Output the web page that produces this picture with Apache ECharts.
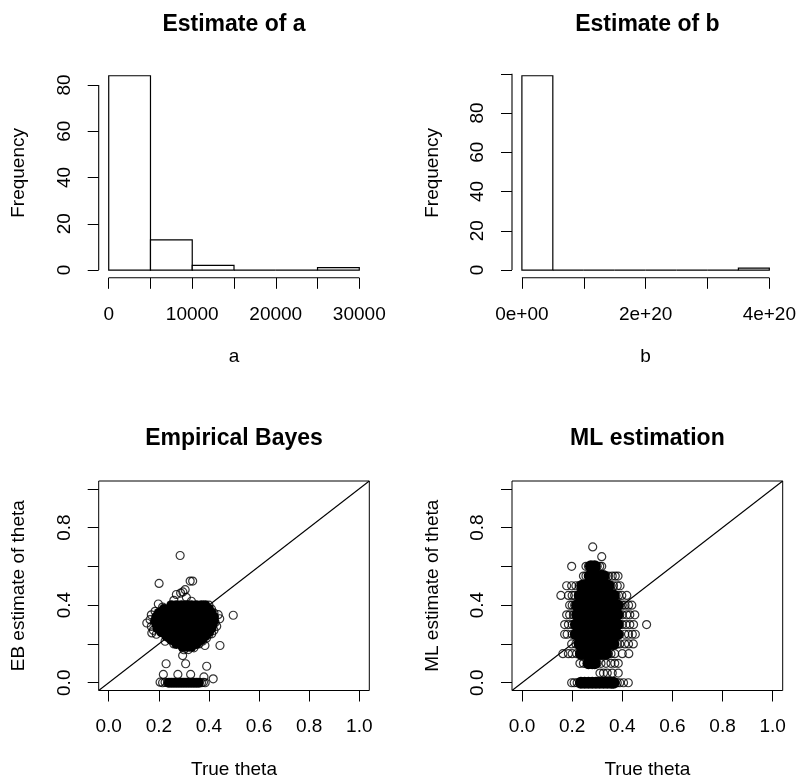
<!DOCTYPE html>
<html><head><meta charset="utf-8">
<script src="https://cdn.jsdelivr.net/npm/echarts@6/dist/echarts.min.js"></script>
<style>html,body{margin:0;padding:0;background:#fff}#c{width:799px;height:780px}</style>
</head><body><div id="c"></div>
<script>
// ---------- Histogram of a ----------
const aBreaks = [0, 5000, 10000, 15000, 20000, 25000, 30000];
const aCounts = [84, 13, 2, 0, 0, 1];
const aXTicks = [0, 5000, 10000, 15000, 20000, 25000, 30000];
const aXLabels = [0, 10000, 20000, 30000];
const aYTicks = [0, 20, 40, 60, 80];
// ---------- Histogram of b ----------
const bBreaks = [0, 0.5e20, 1e20, 1.5e20, 2e20, 2.5e20, 3e20, 3.5e20, 4e20];
const bCounts = [99, 0, 0, 0, 0, 0, 0, 1];
const bXTicks = [0, 1e20, 2e20, 3e20, 4e20];
const bXLabelValues = [0, 2e20, 4e20];
const bXLabelText = ['0e+00', '2e+20', '4e+20'];
const bYTicks = [0, 20, 40, 60, 80, 100];
const bYLabels = [0, 20, 40, 60, 80];
// ---------- theta axes ----------
const thetaTicks = [0, 0.2, 0.4, 0.6, 0.8, 1.0];
const thetaXLabels = [0, 0.2, 0.4, 0.6, 0.8, 1.0];
const thetaYLabels = [0, 0.4, 0.8];
const thetaLim = [0, 1];
// ---------- Empirical Bayes: [true theta, EB estimate] ----------
// dense (saturated) part of the cloud
const ebDense = [
 [0.25,0.40],[0.27,0.40],[0.29,0.40],[0.31,0.40],[0.33,0.40],[0.35,0.40],[0.37,0.40],[0.385,0.40],
 [0.22,0.38],[0.24,0.38],[0.26,0.38],[0.28,0.38],[0.30,0.38],[0.32,0.38],[0.34,0.38],[0.36,0.38],[0.38,0.38],[0.40,0.38],
 [0.20,0.36],[0.22,0.36],[0.24,0.36],[0.26,0.36],[0.28,0.36],[0.30,0.36],[0.32,0.36],[0.34,0.36],[0.36,0.36],[0.38,0.36],[0.40,0.36],[0.41,0.36],
 [0.19,0.34],[0.21,0.34],[0.23,0.34],[0.25,0.34],[0.27,0.34],[0.29,0.34],[0.31,0.34],[0.33,0.34],[0.35,0.34],[0.37,0.34],[0.39,0.34],[0.41,0.34],[0.42,0.34],
 [0.185,0.32],[0.20,0.32],[0.22,0.32],[0.24,0.32],[0.26,0.32],[0.28,0.32],[0.30,0.32],[0.32,0.32],[0.34,0.32],[0.36,0.32],[0.38,0.32],[0.40,0.32],[0.42,0.32],
 [0.19,0.30],[0.21,0.30],[0.23,0.30],[0.25,0.30],[0.27,0.30],[0.29,0.30],[0.31,0.30],[0.33,0.30],[0.35,0.30],[0.37,0.30],[0.39,0.30],[0.415,0.30],
 [0.195,0.28],[0.21,0.28],[0.23,0.28],[0.25,0.28],[0.27,0.28],[0.29,0.28],[0.31,0.28],[0.33,0.28],[0.35,0.28],[0.37,0.28],[0.39,0.28],[0.41,0.28],
 [0.21,0.26],[0.23,0.26],[0.25,0.26],[0.27,0.26],[0.29,0.26],[0.31,0.26],[0.33,0.26],[0.35,0.26],[0.37,0.26],[0.39,0.26],[0.40,0.26],
 [0.23,0.24],[0.25,0.24],[0.27,0.24],[0.29,0.24],[0.31,0.24],[0.33,0.24],[0.35,0.24],[0.37,0.24],[0.385,0.24],
 [0.25,0.22],[0.27,0.22],[0.29,0.22],[0.31,0.22],[0.33,0.22],[0.35,0.22],[0.37,0.22],
 [0.27,0.20],[0.29,0.20],[0.31,0.20],[0.33,0.20],[0.35,0.20],
 [0.295,0.185],[0.315,0.185],[0.33,0.185],
 [0.24,0.0],[0.25,0.0],[0.26,0.0],[0.27,0.0],[0.28,0.0],[0.29,0.0],[0.30,0.0],[0.31,0.0],[0.32,0.0],[0.33,0.0],[0.34,0.0],[0.35,0.0],[0.36,0.0]
];
// individually visible circles
const ebSparse = [
 [0.285,0.656],[0.201,0.512],[0.325,0.524],[0.335,0.524],[0.305,0.48],[0.296,0.468],[0.287,0.462],[0.27,0.455],
 [0.198,0.406],[0.497,0.348],[0.444,0.192],[0.384,0.192],[0.295,0.14],[0.229,0.098],[0.307,0.098],[0.391,0.085],
 [0.218,0.043],[0.276,0.043],[0.327,0.043],[0.38,0.03],[0.417,0.02],[0.205,0.003],
 [0.26,0.425],[0.31,0.44],[0.33,0.42],[0.215,0.39],[0.185,0.368],[0.17,0.35],[0.165,0.325],[0.152,0.308],
 [0.17,0.29],[0.178,0.27],[0.172,0.257],[0.19,0.25],[0.225,0.214],[0.24,0.23],[0.26,0.2],[0.3,0.17],
 [0.318,0.171],[0.34,0.18],[0.36,0.2],[0.375,0.215],[0.39,0.23],[0.40,0.25],[0.411,0.252],[0.42,0.27],
 [0.431,0.291],[0.425,0.31],[0.443,0.33],[0.437,0.351],[0.42,0.36],[0.41,0.38],[0.40,0.40],
 [0.215,0.0],[0.225,0.002],[0.235,0.0],[0.37,0.0],[0.378,0.002],[0.385,0.0]
];
// ---------- ML estimation: [true theta, ML estimate] ----------
const mlDense = [
 [0.275,0.6],[0.29,0.6],
 [0.27,0.55],[0.285,0.55],[0.30,0.55],[0.315,0.55],[0.325,0.55],
 [0.24,0.5],[0.255,0.5],[0.27,0.5],[0.285,0.5],[0.30,0.5],[0.315,0.5],[0.33,0.5],[0.345,0.5],
 [0.23,0.45],[0.245,0.45],[0.26,0.45],[0.275,0.45],[0.29,0.45],[0.305,0.45],[0.32,0.45],[0.335,0.45],[0.35,0.45],[0.365,0.45],
 [0.22,0.4],[0.235,0.4],[0.25,0.4],[0.265,0.4],[0.28,0.4],[0.295,0.4],[0.31,0.4],[0.325,0.4],[0.34,0.4],[0.355,0.4],[0.37,0.4],[0.38,0.4],
 [0.22,0.35],[0.235,0.35],[0.25,0.35],[0.265,0.35],[0.28,0.35],[0.295,0.35],[0.31,0.35],[0.325,0.35],[0.34,0.35],[0.355,0.35],[0.37,0.35],[0.38,0.35],
 [0.215,0.3],[0.23,0.3],[0.245,0.3],[0.26,0.3],[0.275,0.3],[0.29,0.3],[0.305,0.3],[0.32,0.3],[0.335,0.3],[0.35,0.3],[0.365,0.3],[0.38,0.3],
 [0.215,0.25],[0.23,0.25],[0.245,0.25],[0.26,0.25],[0.275,0.25],[0.29,0.25],[0.305,0.25],[0.32,0.25],[0.335,0.25],[0.35,0.25],[0.365,0.25],[0.38,0.25],
 [0.23,0.2],[0.245,0.2],[0.26,0.2],[0.275,0.2],[0.29,0.2],[0.305,0.2],[0.32,0.2],[0.335,0.2],[0.35,0.2],[0.365,0.2],
 [0.235,0.15],[0.25,0.15],[0.265,0.15],[0.28,0.15],[0.295,0.15],[0.31,0.15],[0.325,0.15],[0.335,0.15],
 [0.265,0.1],[0.28,0.1],[0.29,0.1],
 [0.235,0],[0.25,0],[0.265,0],[0.28,0],[0.295,0],[0.31,0],[0.325,0],[0.34,0],[0.355,0],[0.365,0]
];
const mlSparse = [
 [0.282,0.7],[0.318,0.65],
 [0.198,0.6],[0.255,0.6],[0.265,0.6],[0.30,0.6],[0.31,0.6],[0.318,0.6],
 [0.245,0.55],[0.255,0.55],[0.335,0.55],[0.345,0.55],[0.36,0.55],[0.372,0.55],[0.383,0.55],
 [0.178,0.5],[0.198,0.5],[0.215,0.5],[0.228,0.5],[0.355,0.5],[0.365,0.5],[0.38,0.5],[0.391,0.5],
 [0.155,0.45],[0.185,0.45],[0.2,0.45],[0.21,0.45],[0.375,0.45],[0.385,0.45],[0.398,0.45],[0.418,0.45],
 [0.19,0.4],[0.2,0.4],[0.21,0.4],[0.39,0.4],[0.40,0.4],[0.411,0.4],[0.425,0.4],[0.438,0.4],
 [0.178,0.35],[0.19,0.35],[0.205,0.35],[0.39,0.35],[0.40,0.35],[0.418,0.35],[0.43,0.35],[0.45,0.35],
 [0.17,0.3],[0.185,0.3],[0.2,0.3],[0.39,0.3],[0.40,0.3],[0.415,0.3],[0.43,0.3],[0.445,0.3],[0.497,0.3],
 [0.17,0.25],[0.18,0.25],[0.2,0.25],[0.39,0.25],[0.41,0.25],[0.425,0.25],[0.44,0.25],[0.452,0.25],
 [0.198,0.2],[0.215,0.2],[0.38,0.2],[0.39,0.2],[0.41,0.2],[0.425,0.2],[0.444,0.2],
 [0.163,0.15],[0.185,0.15],[0.2,0.15],[0.218,0.15],[0.345,0.15],[0.355,0.15],[0.37,0.15],[0.4,0.15],[0.426,0.15],
 [0.231,0.1],[0.245,0.1],[0.30,0.1],[0.315,0.1],[0.335,0.1],[0.355,0.1],[0.37,0.1],[0.384,0.1],
 [0.311,0.05],[0.325,0.05],[0.34,0.05],[0.36,0.05],[0.384,0.05],
 [0.198,0],[0.208,0],[0.22,0],[0.37,0],[0.38,0],[0.39,0],[0.405,0],[0.424,0]
];

// ---------- building the option ----------
const FONT = 'Liberation Sans';
const FS = 19;
function ext(lo, hi) { const d = (hi - lo) * 0.04; return [lo - d, hi + d]; }
const aXR = ext(aBreaks[0], aBreaks[aBreaks.length - 1]);
const aYR = ext(0, Math.max(...aCounts));
const bXR = ext(bBreaks[0], bBreaks[bBreaks.length - 1]);
const bYR = ext(0, Math.max(...bCounts));
const tR = ext(thetaLim[0], thetaLim[1]);

const grids = [
  {left: 98.7, top: 68, width: 270.6, height: 209.8},
  {left: 512, top: 68, width: 270.7, height: 209.8},
  {left: 98.7, top: 481, width: 270.6, height: 210.1},
  {left: 512, top: 481, width: 270.7, height: 210.1}
].map(g => Object.assign({show: false}, g));
grids[2].show = true; grids[3].show = true;
grids[2].borderColor = '#000'; grids[3].borderColor = '#000';
grids[2].borderWidth = 1; grids[3].borderWidth = 1;
grids[2].backgroundColor = 'transparent'; grids[3].backgroundColor = 'transparent';

const txt = {fontFamily: FONT, fontSize: FS, color: '#000'};
function axis(kind, i, range, ticks, labels, fmt, name) {
  const o = {
    type: 'value', gridIndex: i, min: range[0], max: range[1],
    name: name, nameLocation: 'middle', nameGap: kind === 'x' ? 69.5 : 70,
    nameTextStyle: txt,
    axisLine: {show: false, onZero: false},
    axisTick: {show: true, length: 11, customValues: ticks, lineStyle: {color: '#000', width: 1}},
    axisLabel: Object.assign({customValues: labels, formatter: fmt, margin: kind === 'x' ? 27 : 24.5, showMinLabel: true, showMaxLabel: true}, txt),
    splitLine: {show: false}
  };
  if (kind === 'y') o.axisLabel.rotate = 90;
  return o;
}
const plain = v => String(v);
const bFmt = v => { const k = bXLabelValues.indexOf(v); return k >= 0 ? bXLabelText[k] : ''; };
const dec1 = v => Number(v).toFixed(1);

function histData(br, ct) { return ct.map((c, i) => [br[i], br[i + 1], c]); }
function histSeries(i, br, ct) {
  return {
    type: 'custom', xAxisIndex: i, yAxisIndex: i, data: histData(br, ct),
    encode: {x: [0, 1], y: 2}, silent: true,
    renderItem: function (params, api) {
      const p0 = api.coord([api.value(0), 0]);
      const p1 = api.coord([api.value(1), api.value(2)]);
      return {type: 'rect', shape: {x: p0[0], y: p1[1], width: p1[0] - p0[0], height: p0[1] - p1[1]},
        style: {fill: '#fff', stroke: '#000', lineWidth: 1.2}};
    }
  };
}
function segment(i, pts) {
  return {type: 'line', xAxisIndex: i, yAxisIndex: i, data: pts, symbol: 'none', silent: true, clip: false,
    lineStyle: {color: '#000', width: 1.1}, z: 5};
}
function openPts(i, pts) {
  return {type: 'scatter', xAxisIndex: i, yAxisIndex: i, data: pts, symbol: 'circle', symbolSize: 8, silent: true,
    itemStyle: {color: 'rgba(0,0,0,0)', borderColor: '#000', borderWidth: 1.2}};
}
function densePts(i, pts, size) {
  return {type: 'scatter', xAxisIndex: i, yAxisIndex: i, data: pts, symbol: 'circle', symbolSize: size, silent: true,
    itemStyle: {color: '#000', borderWidth: 0, opacity: 1}};
}
const titleStyle = {fontFamily: FONT, fontSize: 23, fontWeight: 'bold', color: '#000'};
function ttl(text, cx, top) { return {text: text, left: cx, top: top, textAlign: 'center', padding: 0, textStyle: titleStyle}; }

const option = {
  animation: false,
  backgroundColor: '#fff',
  title: [
    ttl('Estimate of a', 234, 13.5), ttl('Estimate of b', 647.4, 13.5),
    ttl('Empirical Bayes', 234, 427), ttl('ML estimation', 647.4, 427)
  ],
  grid: grids,
  xAxis: [
    axis('x', 0, aXR, aXTicks, aXLabels, plain, 'a'),
    axis('x', 1, bXR, bXTicks, bXLabelValues, bFmt, 'b'),
    axis('x', 2, tR, thetaTicks, thetaXLabels, dec1, 'True theta'),
    axis('x', 3, tR, thetaTicks, thetaXLabels, dec1, 'True theta')
  ],
  yAxis: [
    axis('y', 0, aYR, aYTicks, aYTicks, plain, 'Frequency'),
    axis('y', 1, bYR, bYTicks, bYLabels, plain, 'Frequency'),
    axis('y', 2, tR, thetaTicks, thetaYLabels, dec1, 'EB estimate of theta'),
    axis('y', 3, tR, thetaTicks, thetaYLabels, dec1, 'ML estimate of theta')
  ],
  series: [
    histSeries(0, aBreaks, aCounts),
    segment(0, [[aXTicks[0], aYR[0]], [aXTicks[aXTicks.length - 1], aYR[0]]]),
    segment(0, [[aXR[0], aYTicks[0]], [aXR[0], aYTicks[aYTicks.length - 1]]]),
    histSeries(1, bBreaks, bCounts),
    segment(1, [[bXTicks[0], bYR[0]], [bXTicks[bXTicks.length - 1], bYR[0]]]),
    segment(1, [[bXR[0], bYTicks[0]], [bXR[0], bYTicks[bYTicks.length - 1]]]),
    densePts(2, ebDense, 10), openPts(2, ebSparse), segment(2, [[tR[0], tR[0]], [tR[1], tR[1]]]),
    densePts(3, mlDense, 12), openPts(3, mlSparse), segment(3, [[tR[0], tR[0]], [tR[1], tR[1]]])
  ]
};
const chart = echarts.init(document.getElementById('c'), null, {renderer: 'canvas'});
chart.setOption(option);
</script></body></html>
